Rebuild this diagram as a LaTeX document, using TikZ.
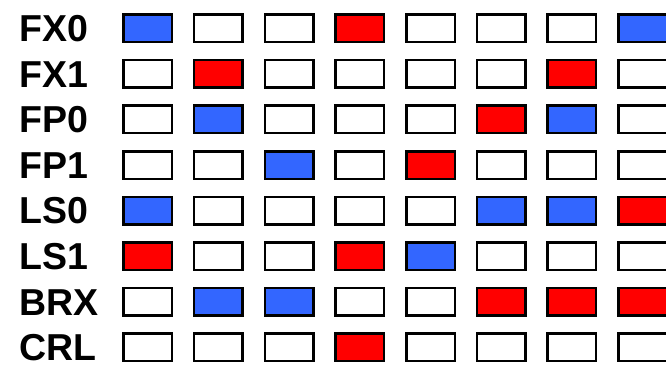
\documentclass[tikz,border=0pt]{standalone}
\usepackage{fontspec}
\setmainfont{Liberation Sans}
\definecolor{cblue}{HTML}{3366FF}
\definecolor{cred}{HTML}{FF0000}
\begin{document}
\begin{tikzpicture}[x=1pt,y=-1pt,
  cell/.style={draw=black,line width=2.5pt,minimum width=48.5pt,minimum height=27.5pt,inner sep=0pt,anchor=north west},
  W/.style={cell,fill=white},
  B/.style={cell,fill=cblue},
  R/.style={cell,fill=cred},
  lab/.style={font=\fontsize{37.5}{40}\selectfont\bfseries,anchor=base west,inner sep=0pt}]
\useasboundingbox (0,0) rectangle (666,365);
\clip (0,0) rectangle (666,365);
\fill[white] (0,0) rectangle (666,365);
\foreach \lbl/\pat [count=\r from 0] in {FX0/{B,W,W,R,W,W,W,B},FX1/{W,R,W,W,W,W,R,W},FP0/{W,B,W,W,W,R,B,W},FP1/{W,W,B,W,R,W,W,W},LS0/{B,W,W,W,W,B,B,R},LS1/{R,W,W,R,B,W,W,W},BRX/{W,B,B,W,W,R,R,R},CRL/{W,W,W,R,W,W,W,W}}{
  \node[lab] (L\r) at (19.5,{41.5+45.6*\r}) {\lbl};
  \foreach \c [count=\k from 0] in \pat {
    \node[\c] (c\r-\k) at ({122.25+70.7*\k},{13.25+45.6*\r}) {};
  }
}
\end{tikzpicture}
\end{document}
